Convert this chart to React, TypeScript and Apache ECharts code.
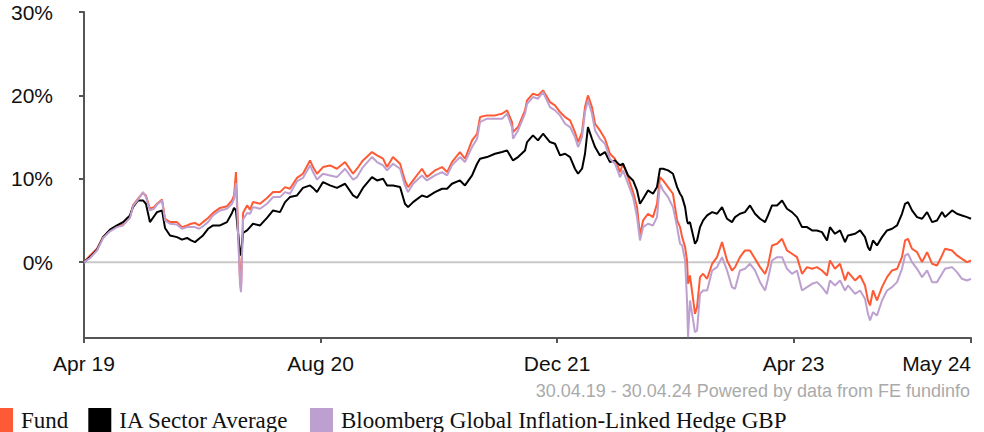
import React, { useEffect, useRef } from "react";
import * as echarts from "echarts";

// x positions in months since 30.04.2019
const months = [
  0, 0.41, 0.88, 1.29, 1.76, 2.23, 2.64, 3.11, 3.31, 3.65,
  3.99, 4.19, 4.46, 4.74, 4.94, 5.28, 5.48, 5.82, 6.29, 6.63,
  6.97, 7.24, 7.51, 7.78, 8.05, 8.39, 8.73, 9.2, 9.67, 10.01,
  10.15, 10.28, 10.42, 10.55, 10.62, 10.76, 11.03, 11.23, 11.43, 11.91,
  12.38, 12.79, 13.26, 13.6, 13.93, 14.41, 14.81, 15.29, 15.49, 15.76,
  16.17, 16.64, 17.11, 17.66, 18.2, 18.47, 18.87, 19.48, 19.82, 20.23,
  20.5, 20.9, 21.38, 21.71, 21.92, 22.26, 22.86, 23.2, 23.74, 24.22,
  24.56, 24.89, 25.43, 25.77, 26.25, 26.59, 26.79, 27.26, 27.8, 28.28,
  28.62, 28.95, 29.02, 29.36, 29.83, 29.97, 30.37, 30.71, 31.05, 31.52,
  31.86, 32.2, 32.54, 32.88, 33.21, 33.42, 33.69, 33.89, 34.09, 34.36,
  34.57, 34.9, 35.24, 35.58, 35.92, 36.26, 36.46, 36.8, 37.14, 37.41,
  37.61, 37.82, 38.15, 38.49, 38.76, 38.96, 39.17, 39.51, 39.84, 40.12,
  40.32, 40.46, 40.66, 40.79, 40.86, 40.99, 41.33, 41.47, 41.67, 41.88,
  42.15, 42.49, 42.82, 43.16, 43.5, 43.83, 44.04, 44.37, 44.71, 45.05,
  45.39, 45.73, 46.07, 46.27, 46.54, 46.88, 47.22, 47.55, 47.89, 48.23,
  48.57, 48.91, 49.25, 49.58, 49.92, 50.26, 50.46, 50.8, 51.14, 51.48,
  51.68, 52.16, 52.5, 52.83, 53.03, 53.17, 53.37, 53.64, 53.98, 54.32,
  54.66, 55.0, 55.33, 55.54, 55.74, 56.01, 56.35, 56.69, 57.03, 57.37,
  57.7, 58.04, 58.24, 58.72, 59.05, 59.39, 59.73, 60.0,
];

const fund = [
  0, 0.8, 1.6, 3.0, 3.8, 4.3, 4.5, 5.4, 6.8, 7.6,
  8.3, 8.0, 6.4, 6.6, 7.0, 7.5, 5.2, 4.8, 4.8, 4.2,
  4.4, 4.6, 4.7, 4.4, 4.8, 5.3, 5.9, 6.5, 6.7, 7.4,
  8.0, 10.8, 4.2, -2.0, -3.3, 5.9, 6.8, 6.3, 7.2, 7.0,
  7.7, 8.4, 8.4, 9.0, 8.8, 10.1, 10.6, 12.2, 11.4, 10.6,
  11.4, 11.6, 11.2, 12.0, 10.6, 11.2, 12.2, 13.2, 12.8, 12.4,
  11.4, 12.6, 11.8, 9.8, 9.0, 9.8, 11.2, 10.2, 11.0, 11.4,
  10.8, 12.0, 13.2, 12.4, 14.6, 15.4, 17.4, 17.6, 17.6, 17.8,
  18.2, 16.8, 15.6, 16.2, 18.2, 19.4, 20.2, 20.0, 20.6, 19.2,
  18.8, 18.0, 17.4, 17.0, 15.6, 14.4, 15.6, 18.6, 20.0, 18.6,
  16.6, 15.8, 14.8, 13.0, 12.4, 10.8, 11.8, 10.2, 8.4, 6.6,
  3.2, 5.0, 5.8, 5.4, 7.0, 10.2, 9.8, 9.0, 8.2, 5.0,
  4.2, 3.0, 1.8, 0.2, -2.6, -1.6, -6.2, -5.4, -1.8, -1.4,
  -2.0, -0.2, 0.6, 2.4, 0.2, -1.0, -0.6, 0.6, 1.4, 1.4,
  0.4, -0.6, -1.4, -0.4, 2.0, 2.2, 2.8, 1.4, 1.0, 0.6,
  -1.4, -0.6, -0.8, -0.6, -1.0, -1.6, 0.2, -0.8, -0.2, -2.2,
  -1.2, -2.2, -1.6, -2.8, -4.6, -5.2, -3.4, -4.6, -3.0, -1.8,
  -1.0, -0.8, 0.6, 2.6, 2.8, 1.6, 1.2, 0.0, 1.2, -0.2,
  -0.4, 0.8, 1.6, 1.4, 0.8, 0.4, 0.0, 0.2,
];

const sector = [
  0, 0.6, 1.5, 3.0, 3.9, 4.4, 4.8, 5.6, 6.6, 7.4,
  7.4, 7.0, 4.8, 5.5, 6.0, 6.2, 4.1, 3.2, 3.0, 2.7,
  2.9, 2.6, 2.4, 2.8, 3.2, 4.0, 4.4, 4.4, 4.8, 5.9,
  6.5, 6.2, 3.5, 1.2, 0.8, 3.5, 3.8, 4.2, 4.6, 4.4,
  5.3, 6.2, 6.0, 7.2, 7.8, 8.0, 8.9, 9.2, 8.9, 8.4,
  9.6, 9.2, 8.9, 9.4, 8.0, 7.7, 8.9, 10.2, 9.8, 10.0,
  9.2, 9.2, 9.0, 7.0, 6.6, 7.2, 8.0, 7.8, 8.4, 8.8,
  8.8, 9.4, 9.8, 9.2, 10.4, 11.8, 12.4, 12.6, 13.0, 13.2,
  13.4, 12.4, 12.2, 12.6, 13.4, 14.4, 15.2, 14.6, 15.4, 14.4,
  14.2, 12.8, 13.0, 12.6, 11.2, 10.6, 11.2, 13.0, 16.2, 14.8,
  13.8, 12.8, 13.2, 12.0, 12.2, 11.6, 11.8, 10.4, 9.8, 8.6,
  7.0, 7.6, 8.6, 8.2, 9.0, 11.2, 11.2, 11.0, 10.6, 9.0,
  8.2, 7.8, 6.6, 5.0, 4.6, 4.8, 2.2, 2.6, 4.2, 5.0,
  5.6, 6.0, 5.8, 6.6, 5.2, 4.8, 5.4, 5.8, 6.0, 6.8,
  5.8, 5.2, 4.8, 5.6, 6.8, 6.8, 7.4, 6.4, 6.0, 5.4,
  4.2, 4.2, 3.8, 3.8, 3.6, 2.6, 4.2, 3.4, 3.8, 2.4,
  3.2, 3.4, 3.8, 3.0, 1.8, 1.4, 2.6, 2.0, 3.0, 3.8,
  4.0, 4.4, 5.8, 7.0, 7.2, 6.2, 5.4, 5.2, 6.0, 4.8,
  5.0, 6.0, 5.4, 6.2, 5.8, 5.6, 5.4, 5.2,
];

const benchmark = [
  0, 0.5, 1.4, 2.9, 3.7, 4.2, 4.4, 5.3, 6.7, 7.5,
  8.4, 7.8, 6.2, 6.4, 6.9, 7.4, 5.0, 4.6, 4.5, 4.0,
  4.2, 4.2, 4.2, 4.0, 4.3, 4.8, 5.6, 6.2, 6.4, 7.0,
  7.6, 9.5, 3.5, -2.5, -3.6, 5.1, 5.9, 5.8, 6.6, 6.4,
  7.0, 7.8, 7.8, 8.4, 8.2, 9.7, 10.1, 11.6, 10.8, 9.9,
  10.6, 10.4, 10.2, 11.2, 9.9, 10.2, 11.4, 12.6, 12.0, 11.6,
  11.0, 11.8, 11.2, 9.2, 8.4, 9.4, 10.4, 9.8, 10.4, 10.8,
  10.4, 11.6, 12.6, 12.0, 13.8, 14.8, 16.8, 17.2, 17.2, 17.2,
  17.8, 16.2, 14.8, 15.8, 17.8, 19.0, 19.8, 19.6, 20.4, 18.6,
  18.2, 17.6, 16.6, 16.2, 15.0, 13.8, 15.0, 18.0, 19.4, 17.8,
  15.8, 14.8, 14.2, 12.4, 11.8, 10.2, 11.0, 9.4, 7.8, 5.4,
  2.6, 4.2, 4.6, 4.4, 5.4, 9.4, 8.6, 7.8, 6.6, 4.2,
  2.2, 2.0, 0.2, -4.6, -9.0, -4.6, -8.4, -8.2, -3.8, -3.4,
  -3.4, -1.0, -0.6, 0.6, -1.0, -3.0, -3.2, -1.0, -0.8, -0.2,
  -1.0, -2.4, -3.4, -2.0, 0.2, 0.6, 0.6, -0.8, -1.4, -1.0,
  -3.4, -3.0, -2.6, -2.4, -3.0, -3.8, -2.2, -2.8, -2.2, -3.4,
  -2.8, -3.8, -3.4, -4.4, -6.2, -7.0, -6.0, -6.4, -4.6, -3.4,
  -3.0, -2.4, -0.8, 0.8, 1.0, 0.0, -0.8, -1.8, -1.0, -2.4,
  -2.4, -1.4, -0.8, -0.6, -1.2, -2.0, -2.2, -2.0,
];

const seriesNames = [
  "Fund",
  "IA Sector Average",
  "Bloomberg Global Inflation-Linked Hedge GBP",
];
const seriesColors = ["#ff5a36", "#000000", "#bda0cf"];
const tickMonths = [0, 16, 32, 48, 60];
const tickLabels = ["Apr 19", "Aug 20", "Dec 21", "Apr 23", "May 24"];
const yTicks = [0, 10, 20, 30];
const footer = "30.04.19 - 30.04.24 Powered by data from FE fundinfo";

export default function App() {
  const ref = useRef<HTMLDivElement>(null);
  useEffect(() => {
    const chart = echarts.init(ref.current!, null, { renderer: "svg" });
    const pair = (arr: number[]) => months.map((m, i) => [m, arr[i]]);
    const lineSeries = [fund, sector, benchmark].map((arr, k) => ({
      name: seriesNames[k],
      type: "line",
      data: pair(arr),
      showSymbol: false,
      symbol: "none",
      color: seriesColors[k],
      lineStyle: { width: 2, color: seriesColors[k] },
      z: 3 + k,
      silent: true,
    }));
    chart.setOption({
      animation: false,
      grid: { left: 84, right: 13, top: 12, bottom: 94, outerBoundsMode: "none" },
      legend: {
        data: seriesNames,
        left: -10,
        top: 408,
        padding: 0,
        icon: "rect",
        itemWidth: 23,
        itemHeight: 24,
        itemGap: 20,
        textStyle: {
          fontFamily: "Liberation Serif",
          fontSize: 23,
          color: "#111",
          padding: [0, 0, 0, 3],
        },
      },
      xAxis: {
        type: "value",
        min: 0,
        max: 60,
        axisLine: { show: true, onZero: false, lineStyle: { color: "#555", width: 2 } },
        axisTick: { show: true, length: 5, customValues: tickMonths, lineStyle: { color: "#555", width: 2 } },
        axisLabel: {
          customValues: tickMonths,
          formatter: (v: number) => {
            const i = tickMonths.indexOf(v);
            return i >= 0 ? tickLabels[i] : "";
          },
          margin: 15,
          fontSize: 21,
          color: "#111",
          fontFamily: "Liberation Sans",
          alignMaxLabel: "right",
          showMinLabel: true,
          showMaxLabel: true,
        },
        splitLine: { show: false },
      },
      yAxis: {
        type: "value",
        min: -9.1,
        max: 30,
        axisLine: { show: true, lineStyle: { color: "#555", width: 2 } },
        axisTick: { show: true, length: 5, customValues: yTicks, lineStyle: { color: "#555", width: 2 } },
        axisLabel: {
          customValues: yTicks,
          formatter: "{value}%",
          margin: 31,
          fontSize: 21,
          color: "#111",
          fontFamily: "Liberation Sans",
        },
        splitLine: { show: false },
      },
      graphic: [
        {
          type: "text",
          right: 14,
          top: 382,
          style: {
            text: footer,
            fill: "#aaaaaa",
            fontSize: 18,
            fontFamily: "Liberation Sans",
          },
        },
      ],
      series: [
        {
          name: "zero",
          type: "line",
          data: [[0, 0], [60, 0]],
          showSymbol: false,
          symbol: "none",
          lineStyle: { width: 2, color: "#c8c8c8" },
          z: 1,
          silent: true,
        },
        ...lineSeries,
      ],
    });
    return () => chart.dispose();
  }, []);
  return (
    <div
      ref={ref}
      style={{ position: "absolute", left: 0, top: 0, width: 984, height: 432 }}
    />
  );
}
